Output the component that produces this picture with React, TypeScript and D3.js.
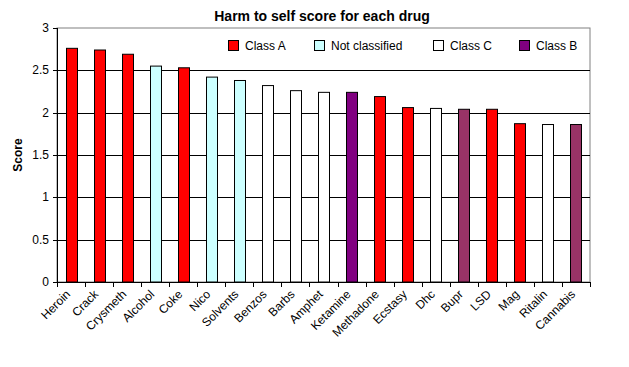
import React from "react";
import * as d3 from "d3";

const drugs = ["Heroin","Crack","Crysmeth","Alcohol","Coke","Nico","Solvents","Benzos","Barbs","Amphet","Ketamine","Methadone","Ecstasy","Dhc","Bupr","LSD","Mag","Ritalin","Cannabis"];
const scores = [2.76,2.74,2.69,2.55,2.53,2.42,2.38,2.32,2.26,2.24,2.24,2.19,2.06,2.05,2.04,2.04,1.87,1.86,1.86];
const classes = ["A","A","A","N","A","N","N","C","C","C","B","A","A","C","B2","A","A","C","B2"];
const yTicks = [0,0.5,1,1.5,2,2.5,3];
const legendItems = [
  { key: "A", label: "Class A" },
  { key: "N", label: "Not classified" },
  { key: "C", label: "Class C" },
  { key: "B", label: "Class B" },
];
const colorMap: Record<string, string> = { A: "#FF0000", N: "#CCFFFF", C: "#FFFFFF", B: "#800080", B2: "#993366" };

export default function App() {
  const W = 629, H = 367;
  const left = 57, right = 590, top = 28, bottom = 282;
  const xb = d3.scaleBand<string>().domain(drugs).range([left, right]);
  const y = d3.scaleLinear().domain([0, 3]).range([bottom, top]);
  const font = "Arial, 'Liberation Sans', sans-serif";
  const legendX = [228, 314, 433, 519];
  return (
    <svg width={W} height={H} style={{ position: "absolute", left: 0, top: 0 }} fontFamily={font}>
      <rect x={0} y={0} width={W} height={H} fill="#fff" />
      <text x={322} y={21} textAnchor="middle" fontSize={14} fontWeight="bold">Harm to self score for each drug</text>
      <rect x={left} y={top} width={right - left} height={bottom - top} fill="#fff" stroke="#808080" strokeWidth={1} />
      {yTicks.filter(t => t > 0 && t < 3).map(t => (
        <line key={t} x1={left} x2={right} y1={Math.round(y(t)) + 0.5} y2={Math.round(y(t)) + 0.5} stroke="#000" strokeWidth={1} />
      ))}
      {drugs.map((d, i) => (
        <rect key={d} x={Math.round(xb(d)! + xb.bandwidth() / 2 - 5.5) + 0.5} y={y(scores[i])} width={11} height={bottom - y(scores[i])}
          fill={colorMap[classes[i]]} stroke="#000" strokeWidth={1} />
      ))}
      <line x1={left + 0.5} x2={left + 0.5} y1={top} y2={bottom} stroke="#000" />
      <line x1={left} x2={right} y1={bottom + 0.5} y2={bottom + 0.5} stroke="#000" />
      {yTicks.map(t => (
        <g key={t}>
          <line x1={left - 4} x2={left} y1={Math.round(y(t)) + 0.5} y2={Math.round(y(t)) + 0.5} stroke="#000" />
          <text x={left - 8} y={y(t) + 4} textAnchor="end" fontSize={12}>{t}</text>
        </g>
      ))}
      {[...drugs.map(d => xb(d)!), right].map((v, i) => (
        <line key={i} x1={Math.round(v) + 0.5} x2={Math.round(v) + 0.5} y1={bottom} y2={bottom + 5} stroke="#000" />
      ))}
      {drugs.map(d => {
        const cx = xb(d)! + xb.bandwidth() / 2;
        return (
          <text key={d} transform={`translate(${cx},${bottom + 13}) rotate(-45)`} textAnchor="end" fontSize={12}>{d}</text>
        );
      })}
      <text transform={`translate(22,${(top + bottom) / 2}) rotate(-90)`} textAnchor="middle" fontSize={12} fontWeight="bold">Score</text>
      {legendItems.map((l, i) => (
        <g key={l.key}>
          <rect x={legendX[i] + 0.5} y={40.5} width={10} height={10} fill={colorMap[l.key]} stroke="#000" />
          <text x={legendX[i] + 17} y={50} fontSize={12}>{l.label}</text>
        </g>
      ))}
    </svg>
  );
}
